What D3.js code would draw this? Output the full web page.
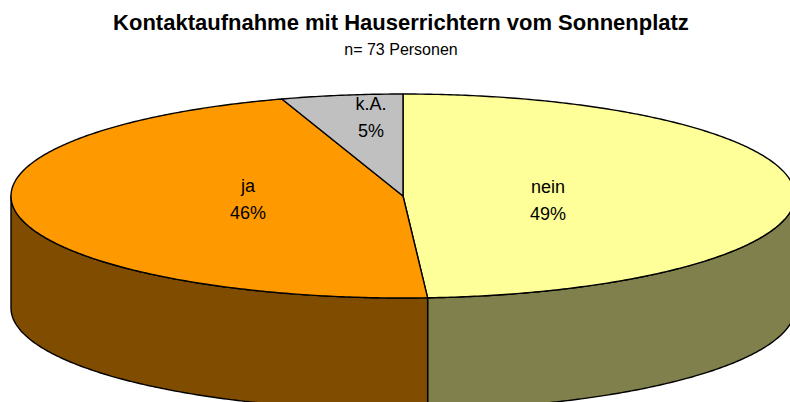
<!DOCTYPE html>
<html><head><meta charset="utf-8">
<script src="https://cdn.jsdelivr.net/npm/d3@7"></script>
<style>body{margin:0;background:#fff}svg{display:block}</style>
</head><body>
<script>
const categories = ["nein", "ja", "k.A."];
const values = [49, 46, 5];
const topColors = ["#FFFF99", "#FF9900", "#C0C0C0"];
const sideColors = ["#80804D", "#804D00", "#606060"];
const title = "Kontaktaufnahme mit Hauserrichtern vom Sonnenplatz";
const subtitle = "n= 73 Personen";

const W = 790, H = 402;
const cx = 403, cy = 196, rx = 392, ry = 102, depth = 112;

const svg = d3.select("body").append("svg").attr("width", W).attr("height", H);
const font = "'Liberation Sans', Arial, sans-serif";

svg.append("text").attr("x", 401).attr("y", 30).attr("text-anchor", "middle")
  .attr("font-family", font).attr("font-weight", "bold").attr("font-size", 22)
  .text(title);
svg.append("text").attr("x", 401).attr("y", 55).attr("text-anchor", "middle")
  .attr("font-family", font).attr("font-size", 16).text(subtitle);

const pie = d3.pie().sort(null).value(d => d)(values);
const px = a => cx + rx * Math.sin(a);
const py = (a, dy = 0) => cy - ry * Math.cos(a) + dy;

function arcPts(a0, a1, dy = 0) {
  const n = Math.max(2, Math.ceil(Math.abs(a1 - a0) / 0.01));
  const pts = [];
  for (let i = 0; i <= n; i++) {
    const a = a0 + (a1 - a0) * i / n;
    pts.push([px(a), py(a, dy)]);
  }
  return pts;
}
const line = d3.line();

// side walls (front half: angles between PI/2 and 3PI/2)
pie.forEach((d, i) => {
  const a0 = Math.max(d.startAngle, Math.PI / 2);
  const a1 = Math.min(d.endAngle, 3 * Math.PI / 2);
  if (a1 <= a0) return;
  const pts = arcPts(a0, a1).concat(arcPts(a1, a0, depth));
  svg.append("path").attr("d", line(pts) + "Z")
    .attr("fill", sideColors[i]).attr("stroke", "#000").attr("stroke-width", 1.4)
    .attr("stroke-linejoin", "round");
});

// top faces
pie.forEach((d, i) => {
  const pts = [[cx, cy]].concat(arcPts(d.startAngle, d.endAngle));
  svg.append("path").attr("d", line(pts) + "Z")
    .attr("fill", topColors[i]).attr("stroke", "#000").attr("stroke-width", 1.4)
    .attr("stroke-linejoin", "round");
});

// labels
const labelPos = [[548, 193], [248, 192], [371, 110]];
pie.forEach((d, i) => {
  const [lx, ly] = labelPos[i];
  const t = svg.append("text").attr("text-anchor", "middle")
    .attr("font-family", font).attr("font-size", 18).attr("fill", "#000");
  t.append("tspan").attr("x", lx).attr("y", ly).text(categories[i]);
  t.append("tspan").attr("x", lx).attr("y", ly + 27).text(values[i] + "%");
});
</script>
</body></html>
